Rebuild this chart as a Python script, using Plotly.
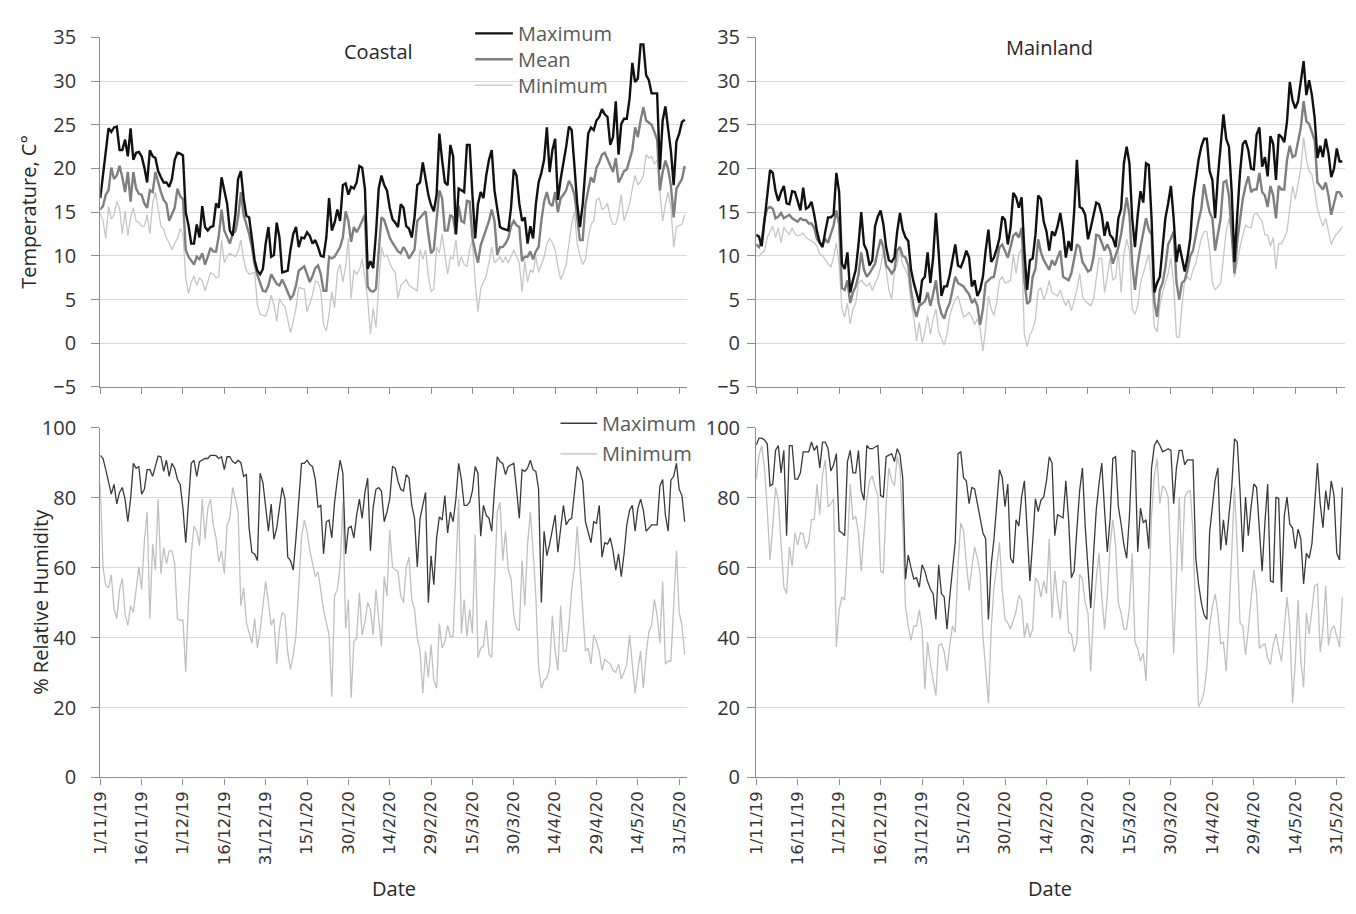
import pandas as pd
import plotly.graph_objects as go

W, H = 1356, 914

dates = pd.date_range("2019-11-01", "2020-05-31", freq="D")
tick_dates = pd.date_range("2019-11-01", periods=15, freq="15D")
tick_labels = ["1/11/19", "16/11/19", "1/12/19", "16/12/19", "31/12/19", "15/1/20", "30/1/20",
               "14/2/20", "29/2/20", "15/3/20", "30/3/20", "14/4/20", "29/4/20", "14/5/20", "31/5/20"]

# ---------------- Coastal temperature (deg C) ----------------
coastal_temp_max = [
    16.6, 19.5, 21.8, 24.6, 24.2, 24.7, 24.8, 22.1, 22.1, 23.3,
    21.4, 24.6, 21.0, 21.8, 21.9, 21.4, 20.1, 18.4, 22.1, 21.4,
    21.2, 19.7, 19.0, 18.4, 18.4, 17.9, 18.8, 21.0, 21.8, 21.7,
    21.5, 15.0, 13.5, 11.4, 11.4, 13.6, 12.1, 15.7, 13.3, 12.9,
    13.3, 13.4, 16.0, 15.5, 19.0, 17.3, 16.0, 12.9, 12.3, 14.7,
    18.8, 19.7, 16.6, 14.6, 14.4, 12.0, 9.5, 8.3, 7.9, 8.5,
    11.4, 13.3, 9.9, 10.1, 13.8, 12.1, 8.1, 8.2, 8.3, 10.7,
    12.5, 13.3, 11.0, 12.1, 12.0, 12.7, 12.3, 11.4, 11.8, 11.0,
    10.0, 9.9, 12.1, 16.6, 12.9, 13.8, 15.3, 14.0, 18.1, 18.3,
    17.0, 17.9, 17.7, 18.4, 20.3, 20.1, 17.7, 8.5, 9.4, 8.6,
    12.5, 17.7, 19.2, 18.1, 17.5, 15.5, 14.2, 13.8, 13.3, 15.9,
    15.5, 13.4, 13.1, 12.1, 14.4, 18.1, 18.4, 20.7, 19.0, 17.0,
    15.8, 15.1, 17.0, 24.0, 21.0, 18.4, 18.1, 22.7, 21.4, 12.5,
    17.7, 17.5, 17.3, 22.7, 22.7, 17.0, 12.0, 15.9, 17.3, 16.6,
    19.2, 21.0, 22.1, 17.5, 15.1, 13.3, 13.1, 13.0, 12.9, 15.5,
    19.9, 19.2, 16.0, 14.0, 14.4, 11.4, 13.4, 12.0, 15.9, 18.4,
    19.5, 21.0, 24.7, 19.6, 22.1, 23.4, 16.4, 18.8, 20.5, 22.5,
    24.8, 24.4, 20.3, 16.0, 13.3, 15.9, 20.0, 24.0, 24.7, 24.4,
    25.5, 25.9, 26.8, 26.2, 25.9, 22.7, 23.6, 27.7, 21.6, 25.1,
    25.7, 25.7, 28.0, 32.1, 29.9, 30.3, 34.2, 34.2, 30.7, 30.1,
    28.6, 28.6, 28.6, 19.9, 25.5, 27.1, 24.7, 22.0, 18.1, 23.1,
    24.0, 25.3, 25.6]
coastal_temp_mean = [
    15.3, 15.7, 17.0, 17.5, 20.1, 18.8, 19.2, 20.3, 19.0, 17.3,
    19.6, 16.2, 19.6, 17.7, 17.1, 17.0, 16.0, 15.5, 17.5, 17.3,
    19.6, 18.3, 17.3, 16.4, 16.0, 14.0, 14.8, 15.5, 17.7, 16.8,
    16.5, 10.7, 9.9, 9.4, 9.0, 9.9, 9.6, 10.3, 9.0, 9.9,
    10.9, 10.5, 10.5, 12.3, 15.3, 12.9, 12.1, 11.4, 12.5, 12.8,
    14.4, 17.3, 14.7, 13.6, 12.5, 11.0, 9.0, 7.8, 7.0, 6.0,
    5.9, 6.6, 7.9, 7.3, 6.8, 6.6, 7.3, 6.6, 5.9, 5.1,
    5.5, 6.6, 8.3, 8.5, 8.8, 7.9, 7.0, 7.7, 8.6, 8.9,
    7.9, 6.0, 6.0, 9.9, 9.7, 9.9, 10.5, 11.0, 12.1, 15.1,
    14.0, 11.6, 13.3, 12.7, 13.3, 14.0, 14.7, 6.5, 6.0, 5.9,
    6.2, 10.5, 14.4, 14.1, 13.0, 12.1, 11.5, 11.0, 10.5, 10.3,
    11.0, 10.5, 9.7, 10.2, 10.7, 14.0, 14.4, 14.7, 15.1, 12.5,
    10.3, 10.7, 14.4, 17.5, 16.6, 12.9, 12.9, 14.7, 14.4, 12.4,
    15.7, 14.0, 13.8, 16.3, 16.2, 12.1, 10.5, 9.2, 11.2, 12.1,
    12.9, 14.0, 15.3, 14.0, 10.1, 11.0, 11.0, 11.4, 12.0, 13.4,
    14.0, 13.5, 13.3, 9.4, 9.9, 9.9, 10.5, 9.6, 10.5, 11.0,
    14.0, 16.2, 17.3, 16.0, 15.7, 17.3, 15.0, 16.6, 17.0, 17.5,
    18.6, 18.0, 17.0, 14.0, 11.8, 11.8, 15.9, 17.5, 19.0, 18.4,
    20.1, 20.7, 21.6, 21.8, 21.0, 20.3, 19.6, 21.2, 18.4, 19.0,
    19.7, 19.9, 21.0, 22.1, 24.7, 23.6, 25.5, 27.0, 25.5, 25.3,
    25.0, 24.2, 23.3, 17.5, 19.6, 20.9, 19.9, 18.0, 14.4, 17.7,
    18.3, 18.8, 20.3]
coastal_temp_min = [
    14.9, 14.0, 12.0, 15.7, 14.2, 14.7, 16.2, 15.5, 12.5, 15.1,
    12.3, 14.4, 15.5, 14.0, 13.8, 13.4, 13.4, 14.7, 12.5, 16.0,
    17.3, 15.3, 13.4, 13.1, 12.0, 11.5, 10.7, 11.4, 12.0, 13.1,
    12.5, 7.5, 5.7, 7.0, 7.7, 6.6, 7.5, 7.1, 6.0, 7.0,
    8.1, 7.9, 7.5, 7.6, 11.8, 9.2, 9.9, 10.3, 10.1, 9.9,
    10.5, 11.8, 9.6, 8.3, 7.9, 8.0, 8.1, 4.4, 3.3, 3.2,
    3.1, 4.0, 5.5, 4.4, 2.5, 5.1, 4.5, 4.2, 2.5, 1.2,
    2.5, 4.0, 6.4, 6.3, 6.2, 3.6, 4.6, 5.5, 7.1, 7.0,
    6.0, 2.1, 1.4, 3.3, 5.9, 4.0, 8.1, 9.0, 7.0, 8.8,
    12.0, 5.1, 8.4, 7.9, 8.4, 9.6, 7.5, 5.1, 1.0, 4.0,
    1.8, 5.9, 11.0, 9.9, 10.1, 9.2, 8.5, 8.1, 5.1, 6.6,
    7.0, 7.3, 6.6, 6.4, 6.2, 6.0, 10.7, 9.6, 10.7, 7.7,
    5.9, 6.2, 11.0, 10.3, 12.5, 10.0, 7.9, 9.9, 9.6, 11.8,
    8.8, 9.9, 9.0, 8.8, 10.7, 11.8, 7.0, 3.6, 6.2, 7.0,
    7.7, 9.2, 11.0, 9.2, 9.5, 9.9, 9.2, 9.9, 9.2, 10.0,
    10.7, 9.9, 9.2, 5.9, 9.4, 7.0, 8.4, 8.1, 9.9, 8.1,
    9.0, 9.9, 11.4, 12.0, 11.5, 10.7, 8.8, 7.3, 8.0, 9.0,
    11.4, 13.6, 15.1, 11.4, 10.0, 9.0, 9.6, 12.0, 13.6, 14.0,
    16.4, 16.6, 15.3, 15.5, 16.0, 14.4, 13.6, 13.6, 14.9, 17.0,
    14.0, 15.0, 15.9, 17.7, 19.2, 18.1, 18.5, 19.2, 21.6, 21.2,
    21.4, 20.5, 21.0, 17.3, 14.0, 15.9, 17.3, 15.5, 11.0, 13.3,
    13.5, 13.6, 14.7]

# ---------------- Mainland temperature (deg C) ----------------
mainland_temp_max = [
    12.4, 12.2, 11.1, 14.0, 17.5, 19.8, 19.5, 17.4, 16.3, 17.3,
    18.0, 16.0, 15.9, 17.4, 17.3, 16.3, 15.2, 17.8, 15.4, 15.6,
    16.2, 14.7, 12.8, 11.5, 11.0, 12.8, 14.4, 14.4, 14.7, 19.5,
    17.3, 9.1, 8.5, 10.4, 5.8, 7.2, 8.4, 11.3, 15.0, 11.3,
    10.6, 8.9, 9.5, 13.4, 14.5, 15.2, 13.6, 11.0, 9.5, 9.3,
    9.8, 12.8, 14.9, 13.0, 12.1, 11.7, 8.4, 6.9, 5.8, 4.6,
    7.2, 7.6, 10.4, 6.9, 9.8, 14.9, 10.4, 5.4, 6.5, 6.5,
    7.8, 9.5, 11.3, 8.9, 8.7, 9.5, 10.6, 9.8, 6.5, 7.2,
    5.4, 6.1, 7.6, 10.6, 13.0, 9.3, 9.8, 10.8, 12.0, 14.5,
    14.1, 11.3, 13.2, 17.2, 16.7, 15.5, 16.7, 10.6, 6.1, 9.5,
    9.7, 12.4, 16.9, 16.5, 13.9, 12.8, 10.6, 12.8, 12.3, 13.4,
    14.9, 12.8, 9.8, 11.7, 10.6, 15.0, 21.0, 15.6, 15.4, 14.7,
    11.9, 13.2, 14.7, 16.1, 15.9, 14.7, 12.3, 13.9, 12.4, 12.0,
    11.0, 14.3, 15.4, 20.6, 22.5, 20.6, 14.3, 11.0, 14.7, 17.4,
    16.1, 20.6, 20.4, 14.3, 5.8, 6.9, 7.6, 10.6, 14.3, 16.0,
    18.0, 14.3, 9.3, 11.3, 9.8, 8.2, 9.8, 12.0, 16.5, 18.7,
    21.0, 22.5, 23.4, 23.4, 19.7, 18.7, 14.3, 19.1, 23.2, 26.2,
    23.4, 22.5, 17.3, 9.3, 14.7, 19.5, 22.8, 23.2, 22.1, 20.0,
    19.9, 23.9, 24.7, 20.2, 21.3, 19.1, 23.7, 22.8, 18.7, 23.9,
    23.6, 23.0, 25.4, 29.9, 27.8, 26.9, 27.7, 29.9, 32.3, 28.4,
    30.1, 28.4, 25.8, 21.2, 22.6, 21.3, 23.4, 21.7, 19.0, 20.0,
    22.3, 20.8, 20.8]
mainland_temp_mean = [
    11.3, 11.0, 11.8, 14.3, 15.4, 15.6, 15.4, 14.3, 14.5, 14.9,
    14.3, 14.5, 14.7, 14.3, 14.1, 13.9, 14.3, 14.1, 14.1, 13.7,
    13.7, 13.2, 11.9, 11.5, 11.3, 11.9, 11.5, 12.4, 13.5, 15.2,
    13.6, 6.3, 6.1, 7.2, 4.6, 5.8, 6.5, 7.8, 10.4, 8.4,
    7.6, 8.0, 8.5, 9.1, 10.6, 11.9, 11.0, 8.9, 8.5, 8.0,
    8.4, 10.6, 11.0, 10.0, 9.8, 8.9, 6.1, 4.1, 3.0, 4.3,
    4.5, 4.8, 5.8, 4.3, 5.6, 7.2, 4.6, 3.4, 2.8, 3.9,
    4.6, 6.0, 7.6, 6.9, 6.7, 6.5, 6.0, 5.6, 4.6, 5.0,
    4.3, 2.1, 3.9, 6.9, 7.2, 7.5, 7.6, 9.5, 11.0, 11.3,
    10.5, 9.8, 11.0, 12.3, 12.6, 12.1, 13.2, 7.2, 4.5, 4.8,
    7.6, 8.5, 11.9, 10.4, 9.5, 9.0, 8.4, 9.5, 8.9, 9.8,
    10.6, 7.6, 7.4, 7.2, 8.0, 9.8, 11.3, 11.0, 9.3, 8.8,
    8.2, 8.4, 9.8, 12.4, 12.3, 11.5, 10.6, 11.3, 10.6, 9.1,
    10.2, 11.0, 12.5, 14.7, 16.7, 14.7, 9.1, 6.1, 9.1, 11.0,
    12.8, 14.3, 13.0, 12.4, 4.8, 3.0, 6.1, 6.9, 8.7, 11.3,
    12.0, 12.8, 7.0, 5.0, 6.9, 7.2, 8.4, 10.0, 10.6, 12.4,
    14.0, 15.4, 18.2, 16.5, 15.0, 14.3, 10.6, 12.5, 14.3, 18.4,
    18.6, 16.9, 12.8, 8.0, 11.7, 14.0, 16.5, 18.0, 19.1, 17.3,
    17.6, 17.6, 19.5, 17.3, 16.9, 15.6, 18.0, 16.9, 14.3, 18.0,
    17.6, 17.6, 21.0, 22.6, 21.3, 21.5, 23.2, 24.7, 27.7, 25.4,
    25.1, 24.0, 23.2, 18.4, 18.0, 17.6, 18.4, 16.9, 14.7, 16.1,
    17.3, 17.3, 16.7]
mainland_temp_min = [
    10.0, 10.0, 10.3, 10.6, 12.1, 12.8, 13.4, 12.1, 13.2, 11.5,
    13.3, 12.8, 12.4, 13.2, 12.5, 12.3, 12.4, 12.6, 12.1, 11.9,
    11.7, 11.5, 11.1, 10.2, 10.0, 9.5, 9.1, 8.7, 9.8, 11.5,
    9.1, 3.9, 3.0, 4.6, 2.2, 3.9, 4.6, 6.9, 7.2, 6.8,
    6.5, 6.9, 6.0, 6.9, 7.5, 8.7, 10.5, 8.4, 6.1, 5.0,
    8.2, 9.1, 10.6, 9.0, 8.4, 7.6, 4.6, 3.0, 0.2, 2.4,
    0.0, 1.3, 3.2, 1.0, 2.8, 3.9, 1.3, 0.5, -0.2, 1.0,
    3.2, 4.2, 5.0, 5.4, 4.3, 3.0, 3.2, 3.5, 3.0, 2.1,
    2.8, 1.7, -0.9, 1.7, 5.4, 3.9, 3.2, 4.6, 7.2, 7.6,
    6.9, 7.0, 7.2, 10.2, 8.0, 10.2, 10.8, 1.0, -0.4, 1.0,
    1.5, 2.8, 6.1, 6.3, 5.0, 5.8, 7.2, 5.8, 5.6, 5.4,
    6.1, 5.0, 4.3, 5.0, 3.7, 5.0, 6.1, 8.0, 5.4, 4.8,
    4.5, 4.3, 5.0, 7.5, 9.7, 9.7, 5.8, 7.6, 9.8, 7.2,
    7.5, 10.6, 5.8, 10.2, 11.9, 10.6, 3.9, 3.3, 4.3, 6.9,
    8.0, 9.1, 10.2, 7.2, 1.9, 1.3, 4.3, 5.8, 6.9, 8.0,
    9.7, 6.9, 0.7, 0.7, 4.3, 7.2, 7.6, 7.2, 8.4, 9.1,
    10.6, 12.0, 12.8, 12.8, 10.6, 6.9, 6.1, 6.5, 6.9, 9.8,
    12.8, 14.3, 12.4, 7.6, 9.5, 11.0, 12.4, 13.5, 13.3, 13.2,
    14.7, 14.9, 14.4, 14.0, 12.4, 12.4, 11.1, 12.1, 8.5, 11.4,
    11.4, 12.0, 12.8, 15.4, 18.0, 16.5, 18.5, 20.0, 23.6, 21.0,
    19.7, 19.3, 17.5, 15.4, 14.3, 13.4, 14.3, 12.8, 11.3, 12.1,
    12.5, 12.8, 13.3]

# ---------------- Coastal relative humidity (%) ----------------
coastal_rh_max = [
    92.1, 91.2, 88.0, 84.0, 81.0, 83.8, 78.2, 81.5, 82.9, 79.6,
    73.1, 79.6, 89.8, 88.4, 88.9, 81.0, 82.4, 88.0, 88.0, 86.1,
    89.4, 91.9, 91.7, 87.5, 90.7, 86.1, 89.8, 88.4, 85.2, 83.8,
    76.9, 67.1, 78.7, 89.8, 90.7, 86.1, 90.3, 90.8, 91.2, 91.2,
    92.1, 92.1, 92.0, 91.2, 91.7, 88.0, 91.7, 91.7, 90.3, 89.8,
    90.7, 90.0, 86.1, 86.6, 71.3, 64.4, 63.9, 62.0, 87.0, 84.3,
    77.8, 70.4, 78.2, 68.1, 71.3, 78.0, 82.9, 79.6, 63.0, 62.0,
    59.3, 68.5, 79.6, 89.8, 89.8, 90.7, 89.5, 88.9, 85.2, 77.3,
    77.8, 63.9, 73.1, 73.6, 68.5, 78.7, 85.2, 90.7, 87.0, 63.9,
    71.3, 71.8, 68.5, 75.0, 79.6, 74.1, 81.5, 85.6, 64.8, 77.3,
    82.4, 82.9, 81.9, 73.1, 75.9, 79.6, 88.9, 88.4, 84.7, 82.4,
    81.9, 86.6, 85.6, 77.8, 74.1, 60.2, 74.1, 77.8, 81.5, 50.0,
    63.4, 55.1, 68.5, 74.5, 73.6, 80.6, 69.9, 75.9, 73.1, 79.6,
    89.8, 85.2, 77.8, 77.8, 78.7, 82.0, 88.9, 87.0, 69.0, 77.8,
    75.0, 74.1, 70.4, 82.4, 91.7, 90.3, 89.8, 86.6, 88.9, 89.4,
    89.8, 82.4, 74.1, 88.0, 87.5, 88.4, 90.7, 88.0, 87.5, 82.4,
    50.0, 70.4, 63.4, 66.7, 70.4, 75.0, 64.4, 71.3, 77.8, 72.2,
    73.6, 74.1, 81.5, 88.9, 87.5, 84.7, 73.1, 70.4, 67.1, 73.1,
    72.7, 77.8, 63.0, 67.1, 66.7, 68.5, 64.8, 59.3, 63.9, 57.4,
    63.9, 72.2, 76.4, 77.8, 70.4, 76.9, 79.6, 76.4, 70.4, 71.3,
    72.2, 72.2, 72.2, 83.3, 85.2, 75.0, 70.4, 85.0, 86.1, 89.8,
    82.4, 80.6, 73.1]
coastal_rh_min = [
    83.8, 60.0, 55.0, 54.2, 57.9, 48.1, 45.4, 53.7, 56.9, 46.8,
    43.5, 49.1, 47.2, 54.6, 60.2, 53.7, 67.6, 75.9, 45.4, 66.7,
    59.3, 79.6, 58.3, 65.7, 61.1, 64.8, 64.8, 61.1, 45.4, 44.9,
    45.0, 30.1, 50.0, 63.9, 71.8, 70.4, 66.2, 79.6, 68.1, 76.9,
    79.6, 72.2, 68.5, 61.6, 64.8, 58.3, 72.2, 74.1, 82.9, 79.6,
    75.9, 49.1, 54.2, 44.4, 41.7, 38.4, 45.4, 37.0, 42.1, 50.0,
    56.0, 50.0, 43.5, 45.4, 32.4, 42.6, 47.2, 46.3, 35.6, 31.0,
    35.0, 40.7, 55.6, 68.5, 73.6, 70.4, 65.0, 61.1, 57.4, 58.8,
    52.8, 48.0, 44.4, 40.7, 23.1, 51.9, 53.7, 60.2, 78.7, 42.6,
    50.9, 22.7, 38.9, 39.8, 52.8, 40.7, 44.4, 50.0, 48.0, 40.7,
    53.7, 46.3, 37.5, 57.4, 51.9, 70.8, 60.2, 59.3, 59.0, 51.9,
    50.0, 60.2, 63.0, 50.9, 48.1, 39.8, 36.1, 24.1, 36.1, 28.7,
    38.0, 27.8, 25.5, 44.0, 37.0, 38.9, 43.5, 40.3, 40.3, 59.3,
    79.6, 41.2, 50.9, 40.3, 48.1, 41.2, 69.4, 34.3, 37.0, 37.5,
    44.9, 35.2, 34.3, 55.6, 75.9, 78.7, 62.0, 70.4, 59.3, 56.9,
    46.3, 42.6, 42.0, 62.0, 49.1, 66.7, 75.9, 64.8, 51.9, 31.5,
    25.5, 27.8, 28.5, 31.5, 46.3, 36.1, 30.6, 49.1, 36.1, 36.1,
    43.5, 53.7, 60.0, 71.8, 59.3, 48.1, 36.1, 37.0, 32.4, 40.7,
    38.9, 36.1, 30.6, 33.8, 33.0, 32.4, 30.6, 30.1, 32.4, 28.2,
    30.0, 32.4, 40.7, 33.3, 24.1, 30.6, 36.1, 25.5, 35.0, 41.7,
    43.5, 50.9, 46.3, 38.4, 56.0, 32.4, 33.3, 33.3, 50.0, 64.8,
    47.2, 43.5, 35.2]

# ---------------- Mainland relative humidity (%) ----------------
mainland_rh_max = [
    95.0, 97.0, 97.0, 96.5, 95.4, 83.4, 83.9, 93.5, 94.9, 87.1,
    93.5, 69.1, 94.9, 94.9, 85.3, 85.3, 87.1, 93.1, 93.1, 93.1,
    95.9, 93.5, 94.9, 88.5, 95.9, 95.9, 94.0, 87.6, 89.4, 92.6,
    70.5, 70.0, 69.1, 90.3, 93.5, 87.1, 87.1, 93.5, 82.0, 79.3,
    94.9, 94.0, 94.0, 94.5, 94.9, 80.6, 80.2, 91.7, 92.2, 92.6,
    90.3, 94.0, 92.2, 85.7, 56.7, 63.6, 59.9, 56.7, 57.1, 54.4,
    60.8, 59.0, 56.0, 53.9, 52.5, 45.2, 60.8, 52.5, 51.6, 42.4,
    51.6, 60.0, 67.3, 92.6, 93.1, 85.7, 84.8, 78.3, 82.9, 82.5,
    78.0, 74.7, 70.0, 68.2, 45.2, 60.8, 68.2, 78.0, 88.0, 85.7,
    77.4, 83.9, 62.7, 61.3, 73.7, 71.9, 80.2, 84.8, 71.9, 56.2,
    67.3, 79.7, 76.0, 79.3, 80.2, 84.8, 91.7, 89.9, 69.1, 75.1,
    74.7, 74.2, 84.8, 73.7, 57.1, 59.0, 71.0, 82.0, 88.5, 71.9,
    60.0, 48.4, 63.6, 76.5, 84.0, 89.9, 76.5, 64.5, 73.7, 91.2,
    91.7, 77.4, 72.4, 66.4, 62.7, 74.7, 93.5, 93.1, 64.5, 77.0,
    72.8, 73.7, 65.4, 88.5, 94.9, 96.3, 95.0, 93.1, 93.5, 94.0,
    93.5, 78.3, 88.5, 93.5, 93.5, 89.4, 90.8, 90.8, 90.8, 62.7,
    55.3, 50.0, 46.5, 45.2, 70.0, 77.4, 85.0, 88.5, 65.0, 73.7,
    66.4, 75.0, 82.9, 96.8, 95.9, 82.0, 64.5, 80.2, 69.1, 77.4,
    83.9, 82.9, 70.0, 59.0, 72.8, 83.9, 56.2, 55.8, 80.2, 79.7,
    53.0, 74.7, 80.2, 72.4, 71.4, 65.4, 71.0, 68.2, 55.3, 64.1,
    62.7, 66.8, 78.0, 89.9, 78.3, 71.4, 82.0, 76.5, 84.8, 80.6,
    64.1, 62.2, 82.9]
mainland_rh_min = [
    85.3, 92.0, 94.9, 88.5, 76.5, 62.2, 71.9, 82.9, 79.3, 68.2,
    54.4, 52.5, 65.9, 60.4, 70.0, 66.4, 70.0, 69.6, 65.4, 67.3,
    73.7, 73.7, 83.9, 75.1, 86.6, 90.8, 77.4, 78.3, 79.7, 37.3,
    47.9, 51.6, 50.7, 65.4, 83.9, 73.7, 74.7, 70.0, 59.0, 70.0,
    79.3, 84.8, 86.2, 83.0, 80.6, 59.0, 58.5, 78.3, 88.5, 84.8,
    83.4, 91.7, 88.5, 71.9, 48.8, 43.3, 39.2, 43.3, 43.3, 47.9,
    42.4, 25.3, 38.7, 32.3, 28.0, 23.5, 37.8, 38.2, 35.9, 30.4,
    37.8, 43.3, 41.5, 60.8, 72.8, 70.5, 61.3, 53.5, 60.0, 65.9,
    62.7, 58.1, 40.6, 30.0, 21.2, 42.4, 54.4, 60.0, 67.3, 53.5,
    45.2, 44.2, 42.4, 45.0, 47.5, 52.1, 50.7, 40.1, 44.2, 40.1,
    42.4, 57.1, 55.8, 51.6, 56.2, 52.5, 68.2, 45.6, 59.0, 51.2,
    45.2, 56.2, 55.8, 41.5, 41.0, 35.9, 38.7, 58.1, 56.7, 50.0,
    47.0, 30.4, 47.0, 56.7, 64.1, 51.6, 42.4, 51.6, 66.4, 73.7,
    66.4, 49.8, 47.0, 42.4, 42.4, 48.8, 64.1, 38.7, 36.9, 33.2,
    35.5, 27.6, 50.7, 75.0, 86.0, 91.2, 78.3, 83.4, 82.5, 80.2,
    60.8, 35.5, 57.1, 80.2, 59.0, 80.2, 81.6, 82.0, 70.0, 42.4,
    20.3, 21.7, 24.4, 31.3, 43.3, 48.8, 52.5, 47.0, 38.2, 38.7,
    30.4, 46.1, 65.0, 82.9, 65.4, 44.2, 43.3, 35.0, 42.4, 50.0,
    59.4, 52.5, 36.9, 37.8, 38.2, 34.1, 32.3, 38.0, 41.0, 36.9,
    33.2, 42.4, 51.6, 43.3, 21.2, 33.2, 50.7, 33.2, 25.8, 47.0,
    41.0, 47.9, 54.8, 55.3, 35.9, 42.4, 54.8, 37.8, 42.4, 43.3,
    40.6, 37.3, 51.6]

# ---------------- styling ----------------
C_MAX, C_MEAN, C_MIN = "#111111", "#7f7f7f", "#c6c6c6"
C_RHMAX, C_RHMIN = "#3a3a3a", "#c0c0c0"
AXIS_C, GRID_C, TXT_C, LEG_C = "#8c8c8c", "#d9d9d9", "#333333", "#595959"
FONT = "Open Sans"


def px(x):
    return x / W


def py(y):
    return 1 - y / H


fig = go.Figure()


def add_line(vals, xa, ya, color, width):
    n = len(vals)
    fig.add_trace(go.Scatter(x=dates[:n], y=vals, mode="lines", xaxis=xa, yaxis=ya,
                             line=dict(color=color, width=width), showlegend=False,
                             hoverinfo="skip"))


add_line(coastal_temp_min, "x", "y", C_MIN, 1.3)
add_line(coastal_temp_mean, "x", "y", C_MEAN, 2.4)
add_line(coastal_temp_max, "x", "y", C_MAX, 2.4)
add_line(mainland_temp_min, "x2", "y2", C_MIN, 1.3)
add_line(mainland_temp_mean, "x2", "y2", C_MEAN, 2.4)
add_line(mainland_temp_max, "x2", "y2", C_MAX, 2.4)
add_line(coastal_rh_min, "x3", "y3", C_RHMIN, 1.3)
add_line(coastal_rh_max, "x3", "y3", C_RHMAX, 1.3)
add_line(mainland_rh_min, "x4", "y4", C_RHMIN, 1.3)
add_line(mainland_rh_max, "x4", "y4", C_RHMAX, 1.3)

left_dom = [px(91), px(683)]
right_dom = [px(752.3), px(1346)]
top_dom = [py(384.2), py(24.2)]
bot_dom = [py(786.7), py(426.3)]
x_range = ["2019-11-01", "2020-06-01"]


def xaxis(domain, anchor, labels):
    return dict(domain=domain, anchor=anchor, type="date", range=x_range,
                tickmode="array", tickvals=tick_dates, ticktext=tick_labels,
                showticklabels=labels, tickangle=-90, ticks="outside", ticklen=6,
                tickcolor=AXIS_C, tickwidth=1.2, showline=True, linecolor=AXIS_C,
                linewidth=1.3, showgrid=False, zeroline=False,
                tickfont=dict(family="DejaVu Sans", size=16.5, color=TXT_C))


def yaxis(domain, anchor, rng, dtick, standoff):
    return dict(domain=domain, anchor=anchor, range=rng, dtick=dtick, tick0=0,
                ticks="outside", ticklen=8, tickcolor=AXIS_C, tickwidth=1.2,
                showline=True, linecolor=AXIS_C, linewidth=1.3, showgrid=True,
                gridcolor=GRID_C, gridwidth=1, zeroline=False,
                ticklabelstandoff=standoff,
                tickfont=dict(family=FONT, size=20, color=TXT_C))


fig.update_layout(
    width=W, height=H, margin=dict(l=0, r=0, t=0, b=0),
    paper_bgcolor="white", plot_bgcolor="white", showlegend=False,
    xaxis=xaxis(left_dom, "y", False),
    xaxis2=xaxis(right_dom, "y2", False),
    xaxis3=xaxis(left_dom, "y3", True),
    xaxis4=xaxis(right_dom, "y4", True),
    yaxis=yaxis(top_dom, "x", [-5, 35], 5, 11),
    yaxis2=yaxis(top_dom, "x2", [-5, 35], 5, 3),
    yaxis3=yaxis(bot_dom, "x3", [0, 100], 20, 11),
    yaxis4=yaxis(bot_dom, "x4", [0, 100], 20, 3),
)

ann = []


def text(x, y, s, size=20, color="#262626", angle=0, xanchor="center"):
    ann.append(dict(x=px(x), y=py(y), xref="paper", yref="paper", text=s, showarrow=False,
                    textangle=angle, xanchor=xanchor, yanchor="middle",
                    font=dict(family=FONT, size=size, color=color)))


text(19, 204, "Temperature, C°")
ann[-1]["textangle"] = -90
text(30, 606, "% Relative Humidity", angle=-90)
text(387, 901, "Date")
text(1049, 901, "Date")
text(372, 39, "Coastal")
text(1048, 35, "Mainland")

shapes = []


def legend_item(x0, x1, y, color, width, label):
    shapes.append(dict(type="line", xref="paper", yref="paper", x0=px(x0), x1=px(x1),
                       y0=py(y), y1=py(y), line=dict(color=color, width=width)))
    text(x1 + 3, y, label, size=20, color=LEG_C, xanchor="left")


legend_item(469, 507, 20, C_MAX, 2.4, "Maximum")
legend_item(469, 507, 46.7, C_MEAN, 2.4, "Mean")
legend_item(469, 507, 73.3, C_MIN, 1.3, "Minimum")
legend_item(555, 592, 421.7, C_RHMAX, 1.3, "Maximum")
legend_item(555, 592, 453.3, C_RHMIN, 1.3, "Minimum")

fig.update_layout(annotations=ann, shapes=shapes)
fig.write_html("out.html")
